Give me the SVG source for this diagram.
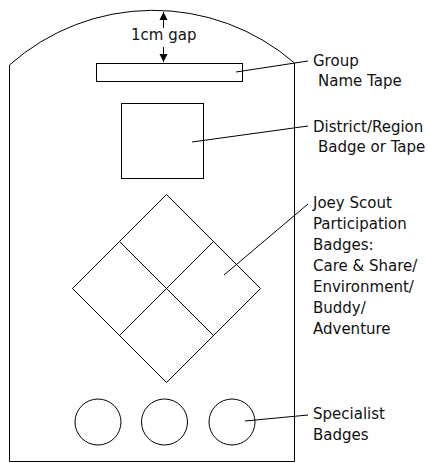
<svg xmlns="http://www.w3.org/2000/svg" width="428" height="463" viewBox="0 0 428 463">
<style>
.s{fill:none;stroke:#000;stroke-width:1}
.t{font-family:"DejaVu Sans",sans-serif;font-size:15px;fill:#111}
</style>
<defs>
<marker id="ah" markerWidth="9" markerHeight="9" refX="8" refY="4.5" orient="auto" markerUnits="userSpaceOnUse">
<path d="M0,0.5 L8,4.5 L0,8.5 Z" fill="#000"/>
</marker>
</defs>
<rect width="428" height="463" fill="#fff"/>
<g id="outline">
<path class="s" d="M294.5,461.5 L9.5,461.5 L9.5,65 A216,216 0 0 1 294.5,63 Z"/>
</g>
<g id="gap">
<line class="s" x1="163.5" y1="28" x2="163.5" y2="12" marker-end="url(#ah)"/>
<line class="s" x1="163.5" y1="47" x2="163.5" y2="62" marker-end="url(#ah)"/>
<text class="t" x="131" y="40">1cm gap</text>
</g>
<g id="group-tape">
<rect class="s" x="96.5" y="63.5" width="146" height="18"/>
<text class="t" x="313" y="66">Group</text>
<text class="t" x="318" y="86">Name Tape</text>
</g>
<g id="district">
<rect class="s" x="121.5" y="103.5" width="82" height="75"/>
<text class="t" x="313" y="132">District/Region</text>
<text class="t" x="318" y="152">Badge or Tape</text>
</g>
<g id="joey">
<path class="s" d="M166.5,194.5 L260.5,288.5 L166.5,382.5 L72.5,288.5 Z M119.5,241.5 L213.5,335.5 M213.5,241.5 L119.5,335.5"/>
<text class="t" x="313" y="208">Joey Scout</text>
<text class="t" x="313" y="229">Participation</text>
<text class="t" x="313" y="250">Badges:</text>
<text class="t" x="313" y="271">Care &amp; Share/</text>
<text class="t" x="313" y="292">Environment/</text>
<text class="t" x="313" y="313">Buddy/</text>
<text class="t" x="313" y="334">Adventure</text>
</g>
<g id="specialist">
<circle class="s" cx="98" cy="422" r="23"/>
<circle class="s" cx="164.5" cy="422" r="23"/>
<circle class="s" cx="232" cy="422" r="23"/>
<text class="t" x="313" y="419">Specialist</text>
<text class="t" x="313" y="440">Badges</text>
</g>
<g id="connectors">
<line class="s" x1="236" y1="72" x2="308" y2="61"/>
<line class="s" x1="192" y1="142" x2="308" y2="126"/>
<line class="s" x1="224" y1="275" x2="308" y2="204"/>
<line class="s" x1="245" y1="421" x2="308" y2="415"/>
</g>
</svg>
